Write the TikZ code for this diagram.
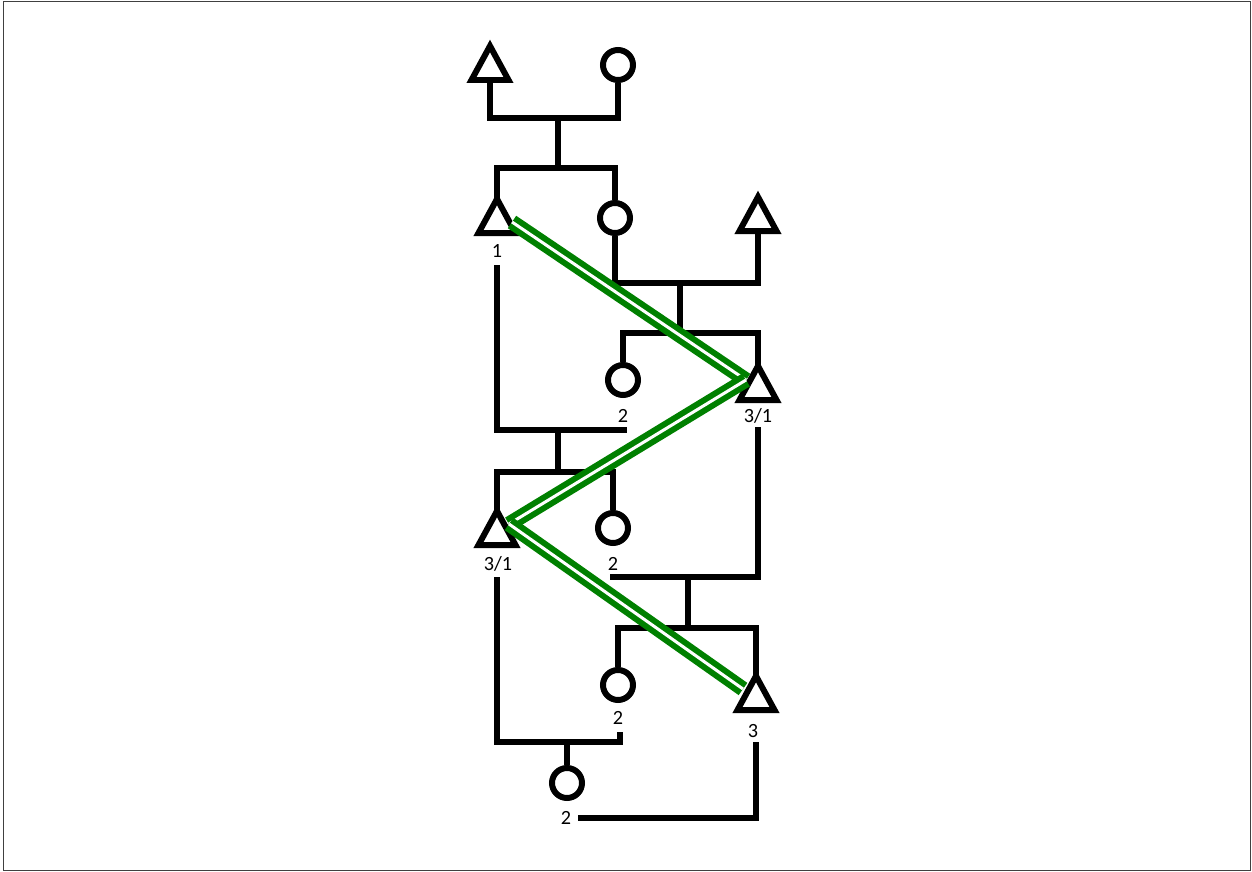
\documentclass[tikz,border=0pt]{standalone}
\usepackage{fontspec}
\setmainfont{Carlito}
\definecolor{grn}{RGB}{0,128,0}
\begin{document}
\begin{tikzpicture}[x=0.02cm,y=-0.02cm,
  ln/.style={line width=0.12cm, line cap=butt, line join=miter},
  circ/.style={circle, draw, line width=0.12cm, minimum size=0.6cm, inner sep=0pt},
  lab/.style={inner sep=0pt, font=\fontsize{11.5}{13}\selectfont},
  gline/.style={draw=grn, line width=0.12cm, double=white, double distance=0.06cm, line cap=butt},
  tri/.pic={
    \draw[ln] (0,-16) -- (18.5,18) -- (-18.5,18) -- cycle;
    \coordinate (-top) at (0,-16);
    \coordinate (-bot) at (0,18);
  }]
\useasboundingbox (0,0) rectangle (1252,872);
\draw[line width=0.03cm, black!75] (3.5,1.5) rectangle (1250.5,870.5);

% symbols
\pic (t0) at (490,62) {tri};
\pic (t1) at (497,215) {tri};
\pic (t2) at (758,213) {tri};
\pic (t3) at (758,382) {tri};
\pic (t4) at (497,527) {tri};
\pic (t5) at (756,692) {tri};
\node[circ] (c0) at (618,65) {};
\node[circ] (c1) at (615,218) {};
\node[circ] (c2) at (623,380) {};
\node[circ] (c3) at (613,528) {};
\node[circ] (c4) at (618,685) {};
\node[circ] (c5) at (567,783) {};

% labels
\node[lab] (l1) at (497,251) {1};
\node[lab] (l2) at (623,416) {2};
\node[lab] (l3) at (758,416) {3/1};
\node[lab] (l4) at (498,564) {3/1};
\node[lab] (l5) at (613,564) {2};
\node[lab] (l6) at (618,718) {2};
\node[lab] (l7) at (753,731) {3};
\node[lab] (l8) at (566,818) {2};

% junction coordinates
\coordinate (m0) at (558,118);
\coordinate (s0) at (558,168);
\coordinate (m1) at (680,283);
\coordinate (s1) at (680,333);
\coordinate (e1) at (497,265);
\coordinate (m2) at (558,430);
\coordinate (e1b) at (627,430);
\coordinate (s2) at (558,472);
\coordinate (e3) at (758,427);
\coordinate (m3) at (688,577);
\coordinate (e3b) at (610,577);
\coordinate (s3) at (688,628);
\coordinate (e4) at (497,577);
\coordinate (m4) at (567,742);
\coordinate (e4b) at (620,732);
\coordinate (e5) at (756,742);
\coordinate (e5b) at (578,818);

% connectors
\draw[ln] (t0-bot) |- (m0) -| (c0.south);
\draw[ln] (m0) -- (s0);
\draw[ln] (t1-top) |- (s0) -| (c1.north);
\draw[ln] (c1.south) |- (m1) -| (t2-bot);
\draw[ln] (m1) -- (s1);
\draw[ln] (c2.north) |- (s1) -| (t3-top);
\draw[ln] (e1) |- (m2) -- (e1b);
\draw[ln] (m2) -- (s2);
\draw[ln] (t4-top) |- (s2) -| (c3.north);
\draw[ln] (e3) |- (m3) -- (e3b);
\draw[ln] (m3) -- (s3);
\draw[ln] (c4.north) |- (s3) -| (t5-top);
\draw[ln] (e4) |- (m4) -| (e4b);
\draw[ln] (m4) -- (c5.north);
\draw[ln] (e5) |- (e5b);

% green links
\coordinate (g1) at (512,222);
\coordinate (g2) at (746,380);
\coordinate (g3) at (509,524);
\coordinate (g4) at (743,689);
\draw[gline] (g1) -- (g2);
\draw[gline] (g2) -- (g3);
\draw[gline] (g3) -- (g4);
\end{tikzpicture}
\end{document}
